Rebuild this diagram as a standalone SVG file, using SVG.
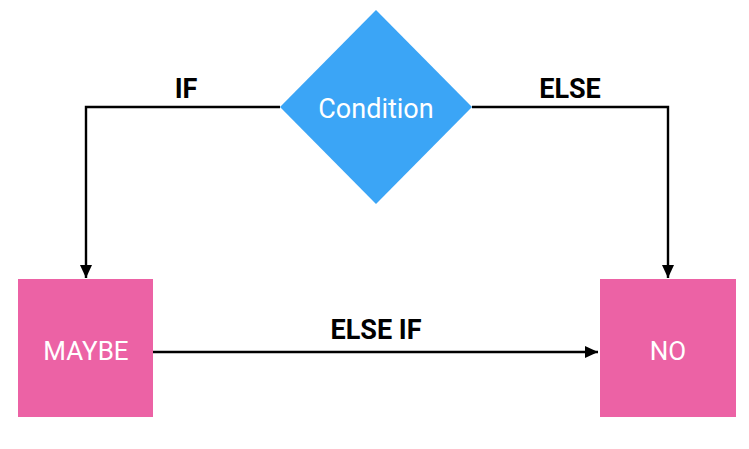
<svg xmlns="http://www.w3.org/2000/svg" width="749" height="449" viewBox="0 0 749 449">
<style>
.lbl{font-family:Roboto,"Liberation Sans",sans-serif;font-size:26px;fill:#fff;text-anchor:middle}
.edge{font-family:Roboto,"Liberation Sans",sans-serif;font-size:27px;font-weight:bold;fill:#000;text-anchor:middle}
.ln{fill:none;stroke:#000;stroke-width:2.4}
.box{fill:#EC62A5}
</style>
<defs>
<marker id="ah" viewBox="0 0 13 12" refX="13" refY="6" markerWidth="13" markerHeight="12" markerUnits="userSpaceOnUse" orient="auto">
<path d="M0,0 L13,6 L0,12 z" fill="#000"/>
</marker>
</defs>
<g id="connectors">
<path class="ln" d="M280,107 H86 V278" marker-end="url(#ah)"/>
<path class="ln" d="M472,107 H668 V278" marker-end="url(#ah)"/>
<path class="ln" d="M153,352 H598" marker-end="url(#ah)"/>
<text class="edge" x="186" y="98">IF</text>
<text class="edge" x="570" y="98">ELSE</text>
<text class="edge" x="376" y="339">ELSE IF</text>
</g>
<g id="condition">
<polygon points="376,10 472,107 376,204 280,107" fill="#3BA5F6"/>
<text class="lbl" x="376" y="118" style="font-size:27px">Condition</text>
</g>
<g id="maybe">
<rect class="box" x="18" y="279" width="135" height="138"/>
<text class="lbl" x="86" y="360">MAYBE</text>
</g>
<g id="no">
<rect class="box" x="600" y="279" width="136" height="138"/>
<text class="lbl" x="668" y="360">NO</text>
</g>
</svg>
